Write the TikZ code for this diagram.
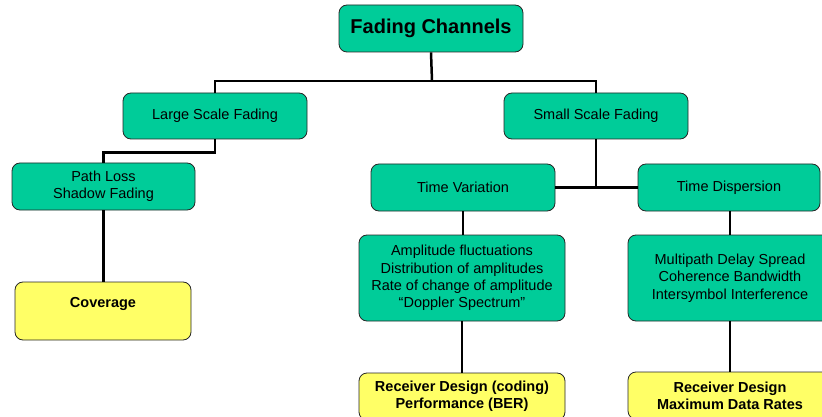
\documentclass[tikz,border=0pt]{standalone}
\usepackage{fontspec}
\setmainfont{Liberation Sans}
\definecolor{boxgreen}{HTML}{00CC99}
\definecolor{boxyellow}{HTML}{FFFF66}
\begin{document}
\begin{tikzpicture}[x=1pt,y=-1pt,
  basebox/.style={draw=black!85, line width=0.8pt, rounded corners=8pt, align=center,
    inner sep=0pt, font=\fontsize{14.5}{17.3}\selectfont},
  gbox/.style={basebox, fill=boxgreen},
  ybox/.style={basebox, fill=boxyellow, font=\fontsize{14.5}{17.3}\selectfont\bfseries},
  link/.style={line width=2.5pt, black}]
\useasboundingbox (0,0) rectangle (822,417);
\node[gbox, minimum width=184pt, minimum height=47pt, font=\fontsize{20}{24}\selectfont\bfseries] (FC) at (431,28.5) {Fading Channels};
\node[gbox, minimum width=184pt, minimum height=46pt] (LSF) at (215,116) {Large Scale Fading};
\node[gbox, minimum width=184pt, minimum height=46pt] (SSF) at (596,116) {Small Scale Fading};
\node[gbox, minimum width=183pt, minimum height=47pt] (PL) at (103.5,186.5) {Path Loss\\Shadow Fading};
\node[ybox, minimum width=176pt, minimum height=58pt] (Cov) at (103,311) {Coverage\\\mbox{}};
\node[gbox, minimum width=184pt, minimum height=47pt] (TV) at (463,187.5) {Time Variation};
\node[gbox, minimum width=182pt, minimum height=47pt] (TD) at (729,187.5) {Time Dispersion};
\node[gbox, minimum width=206pt, minimum height=86pt] (Amp) at (462,278) {Amplitude fluctuations\\Distribution of amplitudes\\Rate of change of amplitude\\``Doppler Spectrum''};
\node[gbox, minimum width=204pt, minimum height=86pt] (MP) at (730,278) {Multipath Delay Spread\\Coherence Bandwidth\\Intersymbol Interference};
\node[ybox, minimum width=206pt, minimum height=47pt] (RD1) at (462,396.5) {Receiver Design (coding)\\Performance (BER)};
\node[ybox, minimum width=204pt, minimum height=47pt] (RD2) at (730,395.5) {Receiver Design\\Maximum Data Rates};
\coordinate (j1) at (432,81);
\draw[link] (FC.south) -- (j1);
\draw[link] (LSF.north) |- (j1) -| (SSF.north);
\draw[link] (LSF.south) -- ([yshift=-13pt]LSF.south) -| (PL.north);
\draw[link] (PL.south) -- (PL.south |- Cov.north);
\draw[link] (SSF.south) -- (SSF.south |- TV.east);
\draw[link] (TV.east) -- (TD.west);
\draw[link] (TV.south) -- (TV.south |- Amp.north);
\draw[link] (Amp.south) -- (Amp.south |- RD1.north);
\draw[link] (MP.north) -- (MP.north |- TD.south);
\draw[link] (MP.south) -- (MP.south |- RD2.north);
\end{tikzpicture}
\end{document}
